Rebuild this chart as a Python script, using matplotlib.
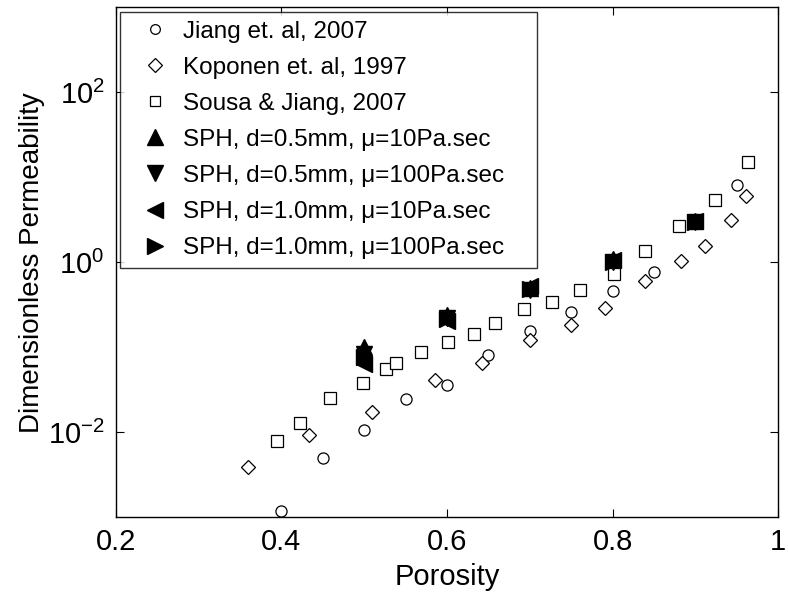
import matplotlib
matplotlib.use('Agg')
import matplotlib.pyplot as plt

plt.rcParams['font.family'] = ['Liberation Sans', 'DejaVu Sans']

# Jiang et. al, 2007
jiang_por = [0.40, 0.45, 0.50, 0.55, 0.60, 0.65, 0.70, 0.75, 0.80, 0.85, 0.95]
jiang_k = [0.00117, 0.0049, 0.0105, 0.0245, 0.036, 0.081, 0.157, 0.258, 0.454, 0.77, 8.15]

# Koponen et. al, 1997
kop_por = [0.36, 0.434, 0.51, 0.586, 0.642, 0.70, 0.75, 0.791, 0.839, 0.883, 0.912, 0.943, 0.961]
kop_k = [0.00385, 0.0093, 0.0171, 0.0415, 0.066, 0.12, 0.185, 0.288, 0.596, 1.04, 1.57, 3.11, 6.04]

# Sousa & Jiang, 2007
sousa_por = [0.395, 0.423, 0.459, 0.499, 0.527, 0.539, 0.569, 0.601, 0.633, 0.658,
             0.693, 0.727, 0.761, 0.802, 0.839, 0.880, 0.923, 0.963]
sousa_k = [0.0078, 0.0127, 0.025, 0.038, 0.0557, 0.066, 0.0885, 0.114, 0.143, 0.195,
           0.278, 0.336, 0.471, 0.735, 1.35, 2.64, 5.46, 15.1]

# SPH results
sph_por = [0.5, 0.6, 0.7, 0.8, 0.9]
sph_05_10 = [0.100, 0.240, 0.50, 1.10, 3.10]
sph_05_100 = [0.083, 0.220, 0.47, 1.00, 2.95]
sph_10_10 = [0.064, 0.205, 0.52, 1.05, 3.05]
sph_10_100 = [0.077, 0.215, 0.48, 1.02, 3.00]

fig = plt.figure(figsize=(7.88, 5.93), dpi=100)
ax = fig.add_axes([0.1467, 0.128, 0.841, 0.8595])

ax.plot(jiang_por, jiang_k, 'o', mfc='white', mec='black', mew=0.9, ms=8,
        label='Jiang et. al, 2007')
ax.plot(kop_por, kop_k, 'D', mfc='white', mec='black', mew=0.9, ms=7,
        label='Koponen et. al, 1997')
ax.plot(sousa_por, sousa_k, 's', mfc='white', mec='black', mew=0.9, ms=8,
        label='Sousa & Jiang, 2007')
ax.plot(sph_por, sph_05_10, '^', color='black', ms=12,
        label='SPH, d=0.5mm, \u03bc=10Pa.sec')
ax.plot(sph_por, sph_05_100, 'v', color='black', ms=12,
        label='SPH, d=0.5mm, \u03bc=100Pa.sec')
ax.plot(sph_por, sph_10_10, '<', color='black', ms=12,
        label='SPH, d=1.0mm, \u03bc=10Pa.sec')
ax.plot(sph_por, sph_10_100, '>', color='black', ms=12,
        label='SPH, d=1.0mm, \u03bc=100Pa.sec')

ax.set_yscale('log')
ax.set_xlim(0.2, 1.0)
ax.set_ylim(1e-3, 1e3)
ax.set_xticks([0.2, 0.4, 0.6, 0.8, 1.0])
ax.set_xticklabels(['0.2', '0.4', '0.6', '0.8', '1'])
ax.set_yticks([1e-2, 1e0, 1e2])
ax.minorticks_off()
ax.tick_params(direction='in', top=True, right=True, length=6, width=0.8,
               labelsize=21, pad=8)
for s in ax.spines.values():
    s.set_linewidth(1.0)

ax.set_xlabel('Porosity', fontsize=21, labelpad=5)
ax.set_ylabel('Dimensionless Permeability', fontsize=20, labelpad=2)

leg = ax.legend(loc='upper left', bbox_to_anchor=(0.0066, 0.0, 0.630, 0.991),
                mode='expand', fontsize=17.5, numpoints=1, frameon=True,
                fancybox=False, edgecolor='black', borderaxespad=0.0,
                handletextpad=0.05, labelspacing=0.58, borderpad=0.35,
                handlelength=2.2)
leg.get_frame().set_linewidth(1.0)
for h in leg.legend_handles:
    h.set_markersize(7 if h.get_marker() in ('o', 'D', 's') else 11)

fig.savefig('out.png', dpi=100)
